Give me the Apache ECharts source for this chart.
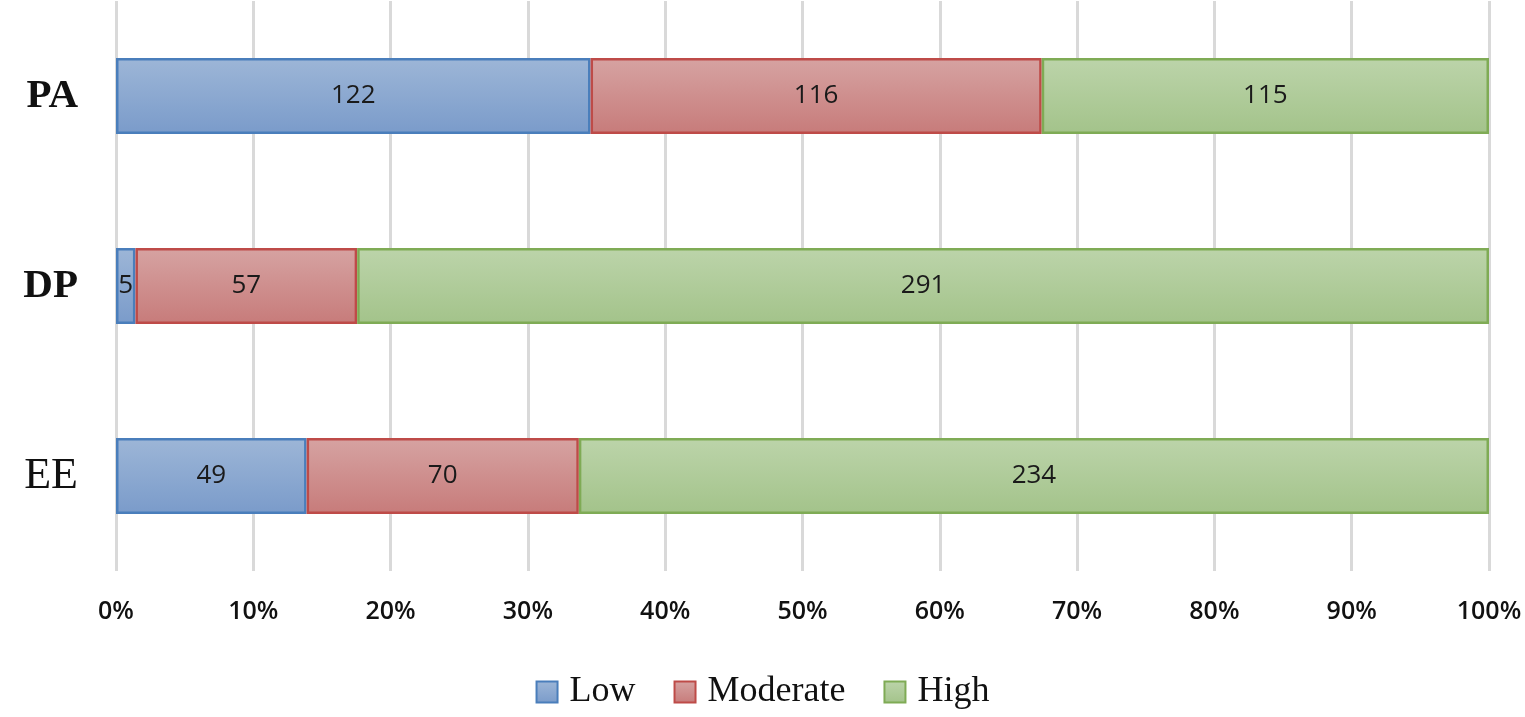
<!DOCTYPE html>
<html><head><meta charset="utf-8">
<script src="https://cdn.jsdelivr.net/npm/echarts@6/dist/echarts.min.js"></script>
<style>html,body{margin:0;padding:0;background:#fff}#c{width:1525px;height:717px}</style>
</head><body><div id="c"></div>
<script>
const categories = ['EE', 'DP', 'PA'];
const lowCounts = [49, 5, 122];
const moderateCounts = [70, 57, 116];
const highCounts = [234, 291, 115];
const tickLabels = ['0%','10%','20%','30%','40%','50%','60%','70%','80%','90%','100%'];
const boldCategories = ['PA', 'DP'];

const totals = categories.map((_, i) => lowCounts[i] + moderateCounts[i] + highCounts[i]);
function pct(arr){ return arr.map((v,i)=>({value: v / totals[i] * 100, count: v})); }

function grad(top, bottom){
  return new echarts.graphic.LinearGradient(0,0,0,1,[{offset:0,color:top},{offset:1,color:bottom}]);
}
function mkSeries(name, counts, top, bottom, border){
  return {
    name, type:'bar', stack:'total', barWidth:'40%',
    data: pct(counts),
    itemStyle:{color:grad(top,bottom), borderColor:border, borderWidth:2.5},
    label:{show:true, position:'inside', formatter:p=>p.data.count, color:'#1a1a1a',
      fontFamily:'Open Sans', fontSize:26},
    emphasis:{disabled:true}
  };
}
const chart = echarts.init(document.getElementById('c'));
chart.setOption({
  animation:false,
  grid:{left:116, right:36, top:1, bottom:146, containLabel:false},
  legend:{
    bottom:2, left:'center', itemWidth:21, itemHeight:21, itemGap:38, icon:'rect',
    textStyle:{fontFamily:'Liberation Serif', fontSize:36, color:'#111', padding:[0,0,0,7]},
    data:['Low','Moderate','High']
  },
  xAxis:{
    type:'value', min:0, max:100, interval:10,
    axisLine:{show:false}, axisTick:{show:false},
    splitLine:{show:true, lineStyle:{color:'#d9d9d9', width:3}},
    axisLabel:{formatter:v=>tickLabels[Math.round(v/10)], fontFamily:'Open Sans', fontWeight:600, fontSize:25, color:'#111', margin:28}
  },
  yAxis:{
    type:'category', data:categories,
    axisLine:{show:false}, axisTick:{show:false},
    axisLabel:{
      formatter:v=> boldCategories.includes(v) ? '{b|'+v+'}' : '{n|'+v+'}',
      margin:38,
      rich:{
        b:{fontFamily:'Liberation Serif', fontWeight:'bold', fontSize:41, color:'#111'},
        n:{fontFamily:'Liberation Serif', fontWeight:'normal', fontSize:44, color:'#111'}
      }
    }
  },
  series:[
    mkSeries('Low', lowCounts, '#9db6d7', '#7a9bca', '#4a7ebb'),
    mkSeries('Moderate', moderateCounts, '#d6a3a2', '#c77b7a', '#be4b48'),
    mkSeries('High', highCounts, '#bcd4aa', '#a3c38a', '#7fab55')
  ]
});
</script></body></html>
